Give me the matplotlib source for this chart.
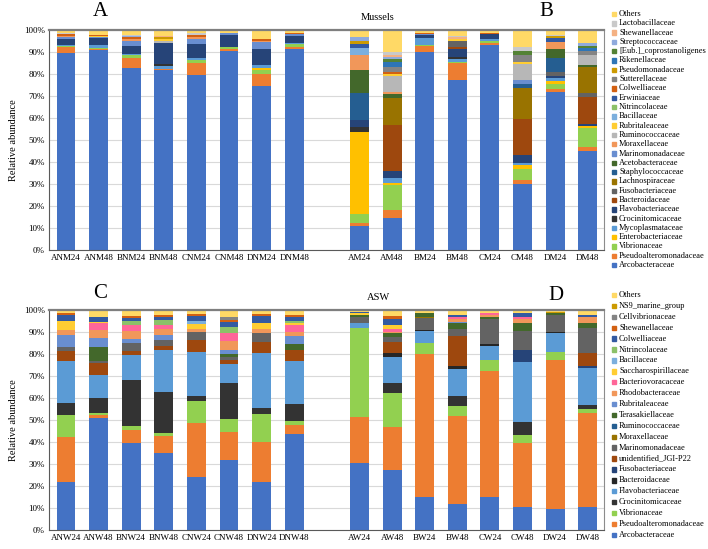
import numpy as np
import matplotlib.pyplot as plt
from matplotlib.patches import Rectangle

plt.rcParams['font.family'] = ['Liberation Serif', 'DejaVu Serif']

# ---- Mussels panel (A, B): families from bottom of stack to top ----
mussel_families = [
    "Arcobacteraceae", "Pseudoalteromonadaceae", "Vibrionaceae", "Enterobacteriaceae",
    "Mycoplasmataceae", "Crocinitomicaceae", "Flavobacteriaceae", "Bacteroidaceae",
    "Fusobacteriaceae", "Lachnospiraceae", "Staphylococcaceae", "Acetobacteraceae",
    "Marinomonadaceae", "Moraxellaceae", "Ruminococcaceae", "Rubritaleaceae",
    "Bacillaceae", "Nitrincolaceae", "Erwiniaceae", "Colwelliaceae",
    "Sutterellaceae", "Pseudomonadaceae", "Rikenellaceae", "[Eub.]_coprostanoligenes",
    "Streptococcaceae", "Shewanellaceae", "Lactobacillaceae", "Others",
]
mussel_colors = [
    "#4472C4", "#ED7D31", "#92D050", "#FFC000", "#5B9BD5", "#333333", "#264478",
    "#9E480E", "#636363", "#997300", "#255E91", "#43682B", "#698ED0", "#F1975A",
    "#B7B7B7", "#FFCD33", "#7CAFDD", "#8CC168", "#335AA1", "#D26012", "#848484",
    "#CC9A00", "#2E75B6", "#548235", "#8FAADC", "#F4B183", "#C9C9C9", "#FFD966",
]

ANM24 = {"Arcobacteraceae": 89.5, "Pseudoalteromonadaceae": 2.6, "Vibrionaceae": 0.6,
         "Mycoplasmataceae": 0.6, "Flavobacteriaceae": 2.7, "Marinomonadaceae": 1.0,
         "Moraxellaceae": 0.4, "Colwelliaceae": 0.6, "Streptococcaceae": 0.4,
         "Lactobacillaceae": 0.4, "Others": 1.2}
ANM48 = {"Arcobacteraceae": 91.0, "Pseudoalteromonadaceae": 0.3, "Vibrionaceae": 0.3,
         "Mycoplasmataceae": 1.4, "Flavobacteriaceae": 3.2, "Marinomonadaceae": 0.5,
         "Rubritaleaceae": 0.8, "Colwelliaceae": 0.3, "Others": 2.2}
BNM24 = {"Arcobacteraceae": 82.6, "Pseudoalteromonadaceae": 4.5, "Vibrionaceae": 1.5,
         "Mycoplasmataceae": 0.6, "Flavobacteriaceae": 3.5, "Marinomonadaceae": 2.5,
         "Moraxellaceae": 0.7, "Colwelliaceae": 0.7, "Streptococcaceae": 0.6,
         "Lactobacillaceae": 0.5, "Others": 2.3}
BNM48 = {"Arcobacteraceae": 81.8, "Pseudoalteromonadaceae": 0.7, "Mycoplasmataceae": 1.0,
         "Crocinitomicaceae": 1.2, "Flavobacteriaceae": 9.4, "Ruminococcaceae": 0.8,
         "Rubritaleaceae": 1.2, "Pseudomonadaceae": 0.6, "Shewanellaceae": 0.7,
         "Others": 2.6}
CNM24 = {"Arcobacteraceae": 79.7, "Pseudoalteromonadaceae": 5.3, "Vibrionaceae": 1.5,
         "Mycoplasmataceae": 0.7, "Flavobacteriaceae": 6.4, "Marinomonadaceae": 2.3,
         "Moraxellaceae": 0.8, "Colwelliaceae": 0.9, "Lactobacillaceae": 0.9,
         "Others": 1.5}
CNM48 = {"Arcobacteraceae": 90.3, "Pseudoalteromonadaceae": 1.2, "Vibrionaceae": 0.7,
         "Mycoplasmataceae": 0.1, "Flavobacteriaceae": 5.3, "Marinomonadaceae": 0.9,
         "Others": 1.5}
DNM24 = {"Arcobacteraceae": 74.7, "Pseudoalteromonadaceae": 5.5, "Vibrionaceae": 1.4,
         "Enterobacteriaceae": 1.2, "Mycoplasmataceae": 1.1, "Flavobacteriaceae": 7.3,
         "Marinomonadaceae": 3.5, "Moraxellaceae": 0.2, "Colwelliaceae": 0.9,
         "Others": 4.2}
DNM48 = {"Arcobacteraceae": 91.3, "Pseudoalteromonadaceae": 0.9, "Vibrionaceae": 1.3,
         "Mycoplasmataceae": 0.4, "Flavobacteriaceae": 3.6, "Marinomonadaceae": 0.6,
         "Colwelliaceae": 0.4, "Others": 1.5}
AM24 = {"Arcobacteraceae": 10.9, "Pseudoalteromonadaceae": 1.5, "Vibrionaceae": 4.1,
        "Enterobacteriaceae": 37.1, "Crocinitomicaceae": 2.2, "Flavobacteriaceae": 3.5,
        "Staphylococcaceae": 12.1, "Acetobacteraceae": 10.5, "Moraxellaceae": 6.7,
        "Bacillaceae": 3.0, "Erwiniaceae": 2.1, "Pseudomonadaceae": 1.5,
        "Streptococcaceae": 1.5, "Others": 3.3}
AM48 = {"Arcobacteraceae": 14.5, "Pseudoalteromonadaceae": 3.5, "Vibrionaceae": 11.4,
        "Enterobacteriaceae": 1.2, "Mycoplasmataceae": 2.1, "Flavobacteriaceae": 3.3,
        "Bacteroidaceae": 20.9, "Lachnospiraceae": 12.4, "Acetobacteraceae": 1.5,
        "Moraxellaceae": 0.8, "Ruminococcaceae": 7.6, "Rubritaleaceae": 0.9,
        "Colwelliaceae": 0.6, "Sutterellaceae": 2.7, "Rikenellaceae": 2.1,
        "[Eub.]_coprostanoligenes": 1.5, "Streptococcaceae": 0.6, "Shewanellaceae": 1.2,
        "Lactobacillaceae": 1.2, "Others": 10.0}
BM24 = {"Arcobacteraceae": 90.0, "Pseudoalteromonadaceae": 2.6, "Vibrionaceae": 0.5,
        "Mycoplasmataceae": 3.3, "Flavobacteriaceae": 1.2, "Marinomonadaceae": 0.6,
        "Colwelliaceae": 0.3, "Others": 1.5}
BM48 = {"Arcobacteraceae": 77.1, "Pseudoalteromonadaceae": 7.9, "Vibrionaceae": 0.5,
        "Mycoplasmataceae": 1.1, "Crocinitomicaceae": 1.2, "Flavobacteriaceae": 3.5,
        "Bacteroidaceae": 1.0, "Fusobacteriaceae": 2.6, "Rubritaleaceae": 0.9,
        "Shewanellaceae": 1.0, "Lactobacillaceae": 0.3, "Others": 2.9}
CM24 = {"Arcobacteraceae": 93.0, "Pseudoalteromonadaceae": 0.9, "Vibrionaceae": 0.9,
        "Mycoplasmataceae": 1.2, "Flavobacteriaceae": 2.2, "Colwelliaceae": 0.6,
        "Others": 1.2}
CM48 = {"Arcobacteraceae": 30.0, "Pseudoalteromonadaceae": 2.0, "Vibrionaceae": 4.8,
        "Enterobacteriaceae": 2.0, "Mycoplasmataceae": 0.9, "Flavobacteriaceae": 3.3,
        "Bacteroidaceae": 16.7, "Lachnospiraceae": 13.9, "Staphylococcaceae": 1.8,
        "Marinomonadaceae": 2.0, "Ruminococcaceae": 7.1, "Rubritaleaceae": 0.8,
        "Sutterellaceae": 3.5, "[Eub.]_coprostanoligenes": 1.8, "Lactobacillaceae": 1.5,
        "Others": 7.9}
DM24 = {"Arcobacteraceae": 71.8, "Pseudoalteromonadaceae": 1.5, "Vibrionaceae": 2.1,
        "Enterobacteriaceae": 1.5, "Mycoplasmataceae": 1.5, "Flavobacteriaceae": 0.9,
        "Fusobacteriaceae": 1.8, "Staphylococcaceae": 6.1, "Acetobacteraceae": 4.2,
        "Moraxellaceae": 3.3, "Erwiniaceae": 1.5, "Pseudomonadaceae": 1.2,
        "Lactobacillaceae": 0.2, "Others": 2.4}
DM48 = {"Arcobacteraceae": 44.8, "Pseudoalteromonadaceae": 1.8, "Vibrionaceae": 8.8,
        "Enterobacteriaceae": 1.1, "Flavobacteriaceae": 0.8, "Bacteroidaceae": 12.1,
        "Fusobacteriaceae": 2.0, "Lachnospiraceae": 11.8, "Acetobacteraceae": 1.1,
        "Ruminococcaceae": 4.5, "Sutterellaceae": 1.8, "Rikenellaceae": 1.0,
        "[Eub.]_coprostanoligenes": 1.0, "Streptococcaceae": 1.5,
        "Lactobacillaceae": 0.2, "Others": 5.7}

mussel_labels = ["ANM24", "ANM48", "BNM24", "BNM48", "CNM24", "CNM48", "DNM24", "DNM48",
                 "AM24", "AM48", "BM24", "BM48", "CM24", "CM48", "DM24", "DM48"]
mussel_data = [ANM24, ANM48, BNM24, BNM48, CNM24, CNM48, DNM24, DNM48,
               AM24, AM48, BM24, BM48, CM24, CM48, DM24, DM48]

# ---- ASW panel (C, D) ----
asw_families = [
    "Arcobacteraceae", "Pseudoalteromonadaceae", "Vibrionaceae", "Crocinitomicaceae",
    "Flavobacteriaceae", "Bacteroidaceae", "Fusobacteriaceae", "unidentified_JGI-P22",
    "Marinomonadaceae", "Moraxellaceae", "Ruminococcaceae", "Terasakiellaceae",
    "Rubritaleaceae", "Rhodobacteraceae", "Bacteriovoracaceae", "Saccharospirillaceae",
    "Bacillaceae", "Nitrincolaceae", "Colwelliaceae", "Shewanellaceae",
    "Cellvibrionaceae", "NS9_marine_group", "Others",
]
asw_colors = [
    "#4472C4", "#ED7D31", "#92D050", "#333333", "#5B9BD5", "#262626", "#264478",
    "#9E480E", "#636363", "#997300", "#255E91", "#43682B", "#698ED0", "#F1975A",
    "#FF6699", "#FFCD33", "#7CAFDD", "#8CC168", "#335AA1", "#D26012", "#848484",
    "#CC9A00", "#FFD966",
]

ANW24 = {"Arcobacteraceae": 22.0, "Pseudoalteromonadaceae": 20.1, "Vibrionaceae": 10.2,
         "Crocinitomicaceae": 5.3, "Flavobacteriaceae": 19.4, "unidentified_JGI-P22": 4.2,
         "Marinomonadaceae": 2.0, "Rubritaleaceae": 5.6, "Rhodobacteraceae": 2.1,
         "Saccharospirillaceae": 4.3, "Colwelliaceae": 2.4, "Shewanellaceae": 0.9,
         "Others": 1.5}
ANW48 = {"Arcobacteraceae": 50.8, "Pseudoalteromonadaceae": 1.5, "Vibrionaceae": 0.7,
         "Crocinitomicaceae": 6.8, "Flavobacteriaceae": 10.7, "unidentified_JGI-P22": 5.6,
         "Marinomonadaceae": 0.9, "Terasakiellaceae": 6.1, "Rubritaleaceae": 4.4,
         "Rhodobacteraceae": 3.5, "Bacteriovoracaceae": 3.0, "Saccharospirillaceae": 0.7,
         "Colwelliaceae": 1.9, "Others": 3.4}
BNW24 = {"Arcobacteraceae": 39.7, "Pseudoalteromonadaceae": 5.8, "Vibrionaceae": 1.8,
         "Crocinitomicaceae": 20.9, "Flavobacteriaceae": 11.2, "unidentified_JGI-P22": 2.1,
         "Marinomonadaceae": 3.5, "Rubritaleaceae": 2.0, "Rhodobacteraceae": 3.6,
         "Bacteriovoracaceae": 2.4, "Nitrincolaceae": 2.2, "Colwelliaceae": 1.2,
         "Shewanellaceae": 0.9, "Others": 2.7}
BNW48 = {"Arcobacteraceae": 35.2, "Pseudoalteromonadaceae": 7.5, "Vibrionaceae": 1.2,
         "Crocinitomicaceae": 18.7, "Flavobacteriaceae": 19.2, "unidentified_JGI-P22": 1.8,
         "Marinomonadaceae": 2.9, "Rubritaleaceae": 2.0, "Rhodobacteraceae": 3.0,
         "Bacteriovoracaceae": 1.8, "Nitrincolaceae": 2.3, "Colwelliaceae": 1.1,
         "Shewanellaceae": 1.2, "Others": 2.1}
CNW24 = {"Arcobacteraceae": 24.2, "Pseudoalteromonadaceae": 24.6, "Vibrionaceae": 10.0,
         "Crocinitomicaceae": 2.1, "Flavobacteriaceae": 20.0, "unidentified_JGI-P22": 5.6,
         "Marinomonadaceae": 3.5, "Rhodobacteraceae": 1.5, "Saccharospirillaceae": 2.1,
         "Bacillaceae": 1.5, "Colwelliaceae": 2.4, "Shewanellaceae": 0.6, "Others": 1.9}
CNW48 = {"Arcobacteraceae": 31.8, "Pseudoalteromonadaceae": 12.9, "Vibrionaceae": 5.6,
         "Crocinitomicaceae": 16.5, "Flavobacteriaceae": 8.7, "unidentified_JGI-P22": 1.9,
         "Marinomonadaceae": 1.1, "Terasakiellaceae": 1.5, "Rubritaleaceae": 1.8,
         "Rhodobacteraceae": 4.0, "Bacteriovoracaceae": 3.8, "Nitrincolaceae": 2.5,
         "Colwelliaceae": 2.4, "Shewanellaceae": 1.1, "Cellvibrionaceae": 1.1,
         "Others": 3.3}
DNW24 = {"Arcobacteraceae": 22.0, "Pseudoalteromonadaceae": 17.8, "Vibrionaceae": 12.9,
         "Crocinitomicaceae": 2.9, "Flavobacteriaceae": 24.9, "unidentified_JGI-P22": 5.0,
         "Marinomonadaceae": 4.0, "Rhodobacteraceae": 2.0, "Saccharospirillaceae": 2.6,
         "Colwelliaceae": 3.0, "Shewanellaceae": 1.1, "Others": 1.8}
DNW48 = {"Arcobacteraceae": 43.6, "Pseudoalteromonadaceae": 4.1, "Vibrionaceae": 1.8,
         "Crocinitomicaceae": 7.6, "Flavobacteriaceae": 19.6, "unidentified_JGI-P22": 5.3,
         "Terasakiellaceae": 2.6, "Rubritaleaceae": 3.4, "Rhodobacteraceae": 2.0,
         "Bacteriovoracaceae": 3.0, "Saccharospirillaceae": 1.1, "Nitrincolaceae": 1.1,
         "Colwelliaceae": 1.5, "Shewanellaceae": 0.9, "Others": 2.4}
AW24 = {"Arcobacteraceae": 30.3, "Pseudoalteromonadaceae": 20.9, "Vibrionaceae": 40.8,
        "Flavobacteriaceae": 2.2, "Marinomonadaceae": 2.5, "Terasakiellaceae": 1.0,
        "Saccharospirillaceae": 0.8, "Colwelliaceae": 0.6, "Others": 0.9}
AW48 = {"Arcobacteraceae": 27.3, "Pseudoalteromonadaceae": 19.4, "Vibrionaceae": 15.4,
        "Crocinitomicaceae": 4.6, "Flavobacteriaceae": 12.1, "Bacteroidaceae": 1.8,
        "unidentified_JGI-P22": 5.0, "Marinomonadaceae": 2.3, "Terasakiellaceae": 1.5,
        "Rhodobacteraceae": 0.8, "Bacteriovoracaceae": 1.0, "Saccharospirillaceae": 2.0,
        "Colwelliaceae": 2.6, "Shewanellaceae": 1.5, "Others": 2.7}
BW24 = {"Arcobacteraceae": 14.8, "Pseudoalteromonadaceae": 65.2, "Vibrionaceae": 4.8,
        "Flavobacteriaceae": 5.6, "Bacteroidaceae": 0.5, "Marinomonadaceae": 5.3,
        "Terasakiellaceae": 1.5, "Moraxellaceae": 0.8, "Others": 1.5}
BW48 = {"Arcobacteraceae": 11.7, "Pseudoalteromonadaceae": 40.1, "Vibrionaceae": 4.5,
        "Crocinitomicaceae": 4.7, "Flavobacteriaceae": 12.0, "Bacteroidaceae": 1.5,
        "unidentified_JGI-P22": 13.8, "Marinomonadaceae": 2.9, "Terasakiellaceae": 2.7,
        "Rubritaleaceae": 0.8, "Rhodobacteraceae": 1.1, "Bacteriovoracaceae": 0.9,
        "Colwelliaceae": 1.2, "Others": 2.1}
CW24 = {"Arcobacteraceae": 14.8, "Pseudoalteromonadaceae": 57.6, "Vibrionaceae": 4.9,
        "Flavobacteriaceae": 6.3, "Bacteroidaceae": 0.8, "Marinomonadaceae": 11.4,
        "Terasakiellaceae": 0.9, "Rhodobacteraceae": 1.0, "Bacteriovoracaceae": 0.8,
        "Others": 1.5}
CW48 = {"Arcobacteraceae": 10.3, "Pseudoalteromonadaceae": 29.4, "Vibrionaceae": 3.5,
        "Crocinitomicaceae": 6.0, "Flavobacteriaceae": 27.3, "Fusobacteriaceae": 5.3,
        "Marinomonadaceae": 8.8, "Terasakiellaceae": 3.6, "Rhodobacteraceae": 1.6,
        "Bacteriovoracaceae": 0.9, "Colwelliaceae": 1.8, "Others": 1.5}
DW24 = {"Arcobacteraceae": 9.4, "Pseudoalteromonadaceae": 67.9, "Vibrionaceae": 3.8,
        "Flavobacteriaceae": 8.3, "Bacteroidaceae": 0.4, "Marinomonadaceae": 7.9,
        "Terasakiellaceae": 0.8, "NS9_marine_group": 0.5, "Others": 1.0}
DW48 = {"Arcobacteraceae": 10.3, "Pseudoalteromonadaceae": 42.7, "Vibrionaceae": 2.2,
        "Crocinitomicaceae": 1.6, "Flavobacteriaceae": 17.0, "Fusobacteriaceae": 0.9,
        "unidentified_JGI-P22": 5.9, "Marinomonadaceae": 11.1, "Terasakiellaceae": 2.5,
        "Rhodobacteraceae": 2.5, "Colwelliaceae": 1.0, "Others": 2.3}

asw_labels = ["ANW24", "ANW48", "BNW24", "BNW48", "CNW24", "CNW48", "DNW24", "DNW48",
              "AW24", "AW48", "BW24", "BW48", "CW24", "CW48", "DW24", "DW48"]
asw_data = [ANW24, ANW48, BNW24, BNW48, CNW24, CNW48, DNW24, DNW48,
            AW24, AW48, BW24, BW48, CW24, CW48, DW24, DW48]

W, H = 708, 549
fig = plt.figure(figsize=(W / 100, H / 100), dpi=100)


def px(x, y):
    # pixel position -> figure fraction
    return x / W, 1 - y / H


def draw_panel(top_px, labels, data, families, colors, legend_top, legend_step):
    left, bottom = px(49, top_px + 220)
    ax = fig.add_axes([left, bottom, 555 / W, 220 / H])
    pos = np.array(list(range(8)) + list(range(9, 17)))
    base = np.zeros(len(labels))
    for fam, col in zip(families, colors):
        vals = np.array([d.get(fam, 0.0) for d in data])
        ax.bar(pos, vals, width=0.58, bottom=base, color=col, linewidth=0, zorder=2)
        base += vals
    ax.set_xlim(-0.52, 16.5)
    ax.set_ylim(0, 100)
    ax.set_yticks(np.arange(0, 101, 10))
    ax.set_yticklabels([f"{v}%" for v in range(0, 101, 10)], fontsize=6.5)
    ax.set_xticks(pos)
    ax.set_xticklabels(labels, fontsize=6.5)
    ax.tick_params(length=0, pad=3)
    ax.yaxis.grid(True, color='#d9d9d9', linewidth=0.8, zorder=0)
    ax.set_axisbelow(True)
    ax.spines['top'].set_color('#7f7f7f')
    ax.spines['top'].set_linewidth(1.6)
    ax.spines['right'].set_color('#8c8c8c')
    ax.spines['right'].set_linewidth(0.8)
    ax.spines['left'].set_color('#595959')
    ax.spines['bottom'].set_color('#595959')
    ax.set_ylabel("Relative abundance", fontsize=7.5, labelpad=4)

    # legend, top entry = last family
    for i, (fam, col) in enumerate(zip(families[::-1], colors[::-1])):
        y = legend_top + i * legend_step
        x0, y0 = px(612, y + 2.2)
        fig.patches.append(Rectangle((x0, y0), 4.4 / W, 4.4 / H, color=col,
                                     transform=fig.transFigure, figure=fig))
        fx, fy = px(619, y)
        fig.text(fx, fy, fam, fontsize=6, va='center', ha='left')
    return ax


ax1 = draw_panel(30, mussel_labels, mussel_data, mussel_families, mussel_colors, 14, 9.3)
ax2 = draw_panel(310, asw_labels, asw_data, asw_families, asw_colors, 295, 10.9)

fig.text(*px(100, 12), "A", fontsize=15, ha='center', va='center')
fig.text(*px(378, 18), "Mussels", fontsize=7.5, ha='center', va='center')
fig.text(*px(546, 12), "B", fontsize=15, ha='center', va='center')
fig.text(*px(100, 294), "C", fontsize=15, ha='center', va='center')
fig.text(*px(378, 297), "ASW", fontsize=7.5, ha='center', va='center')
fig.text(*px(556, 295), "D", fontsize=15, ha='center', va='center')

fig.savefig("out.png", dpi=100)
